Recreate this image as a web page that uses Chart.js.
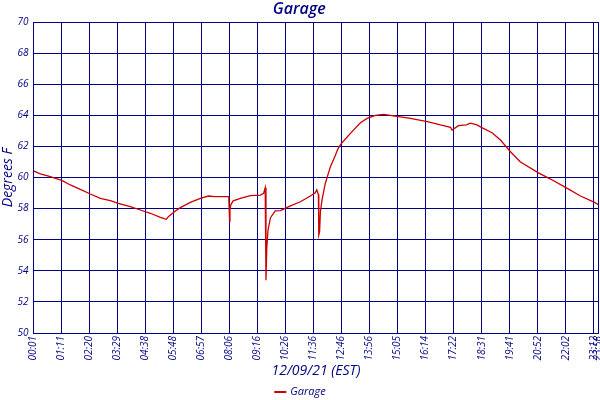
<!DOCTYPE html>
<html>
<head>
<meta charset="utf-8">
<script src="https://cdn.jsdelivr.net/npm/chart.js@4"></script>
<style>
  html, body { margin: 0; padding: 0; background: #ffffff; }
  #wrap { width: 600px; height: 400px; }
</style>
</head>
<body>
<div id="wrap"><canvas id="c" width="600" height="400"></canvas></div>
<script>
// Sample index (readings in order) and temperature (deg F)
const sampleIndex = [0, 17, 42, 72, 92, 117, 142, 167, 192, 212, 242, 267, 292, 317, 332, 337, 352, 367, 392, 417, 437, 454, 488,
  490, 491, 493, 499, 517, 542, 567, 575, 579, 581, 583, 586, 592, 604, 617, 642, 667, 692, 704, 708, 712, 713, 715, 717, 721,
  729, 742, 754, 760, 767, 775, 792, 817, 834, 854, 875, 904, 942, 984, 1017, 1042, 1046, 1062, 1082, 1092, 1108, 1124, 1146, 1167,
  1192, 1217, 1262, 1292, 1334, 1367, 1402, 1412];
const temperatures = [60.42, 60.23, 60.05, 59.8, 59.52, 59.24, 58.94, 58.66, 58.51, 58.34, 58.12, 57.91, 57.7, 57.44, 57.31, 57.48, 57.8, 58.06, 58.4, 58.66, 58.81, 58.77, 58.77,
  57.2, 57.9, 58.23, 58.5, 58.66, 58.83, 58.87, 58.98, 59.34, 53.4, 55.45, 56.6, 57.4, 57.85, 57.87, 58.17, 58.44, 58.81, 59.02, 59.2, 58.9, 56.3, 56.5, 57.8, 58.55,
  59.6, 60.7, 61.4, 61.8, 62.1, 62.35, 62.84, 63.52, 63.8, 64.0, 64.06, 63.95, 63.8, 63.6, 63.38, 63.23, 63.05, 63.33, 63.38, 63.49, 63.38, 63.16, 62.88, 62.41,
  61.66, 61.0, 60.3, 59.9, 59.3, 58.81, 58.4, 58.25];
// Tick positions (sample index) and their time labels
const tickIndex = [0, 70, 140, 210, 280, 350, 420, 490, 560, 630, 700, 770, 840, 910, 980, 1050, 1120, 1190, 1260, 1330, 1400, 1412];
const tickLabels = ["00:01", "01:11", "02:20", "03:29", "04:38", "05:48", "06:57", "08:06", "09:16", "10:26", "11:36",
  "12:46", "13:56", "15:05", "16:14", "17:22", "18:31", "19:41", "20:52", "22:02", "23:12", "23:58"];
const yTicks = [50, 52, 54, 56, 58, 60, 62, 64, 66, 68, 70];

const NAVY = '#000080';
const FONT = 'Open Sans';

const points = sampleIndex.map((x, i) => ({ x: x, y: temperatures[i] }));

// Simple bottom legend drawn from the dataset (line swatch + label)
const lineLegend = {
  id: 'lineLegend',
  afterDraw(chart) {
    const ctx = chart.ctx;
    const ds = chart.data.datasets[0];
    ctx.save();
    ctx.font = 'italic 11px "' + FONT + '"';
    const tw = ctx.measureText(ds.label).width;
    const sw = 12, gap = 4;
    const total = sw + gap + tw;
    const x0 = chart.width / 2 - total / 2;
    const y = 392;
    ctx.fillStyle = ds.borderColor;
    ctx.fillRect(x0, y - 1, sw, 2);
    ctx.fillStyle = NAVY;
    ctx.textBaseline = 'middle';
    ctx.textAlign = 'left';
    ctx.fillText(ds.label, x0 + sw + gap, y);
    ctx.restore();
  }
};

new Chart(document.getElementById('c'), {
  type: 'line',
  data: {
    datasets: [{
      label: 'Garage',
      data: points,
      borderColor: '#cc0000',
      backgroundColor: '#cc0000',
      borderWidth: 1.3,
      pointRadius: 0,
      tension: 0,
      fill: false
    }]
  },
  plugins: [lineLegend],
  options: {
    responsive: false,
    animation: false,
    devicePixelRatio: 1,
    layout: { padding: { left: 0, right: 1.5, top: 0, bottom: 0 } },
    plugins: {
      title: {
        display: true,
        text: 'Garage',
        color: NAVY,
        font: { family: FONT, size: 16, style: 'italic', weight: '600', lineHeight: 1.2 },
        padding: { top: 0, bottom: 2.8 }
      },
      legend: { display: false },
      tooltip: { enabled: false }
    },
    scales: {
      x: {
        type: 'linear',
        min: 0,
        max: 1412,
        afterBuildTicks: (scale) => { scale.ticks = tickIndex.map(v => ({ value: v })); },
        afterFit: (scale) => {
          scale.paddingLeft = 0; scale.paddingRight = 0;
          scale.height = 400 - 333;
        },
        grid: { color: NAVY, lineWidth: 1, drawTicks: false },
        border: { color: NAVY, width: 1 },
        ticks: {
          autoSkip: false,
          minRotation: 90,
          maxRotation: 90,
          padding: 3,
          color: NAVY,
          font: { family: FONT, size: 10, style: 'italic' },
          callback: (value, index) => tickLabels[index]
        },
        title: {
          display: true,
          text: '12/09/21 (EST)',
          color: NAVY,
          font: { family: FONT, size: 14, style: 'italic' },
          padding: { top: 0, bottom: 20.5 }
        }
      },
      y: {
        min: 50,
        max: 70,
        afterBuildTicks: (scale) => { scale.ticks = yTicks.map(v => ({ value: v })); },
        afterFit: (scale) => { scale.width = 33.5; scale.paddingTop = 0; scale.paddingBottom = 0; },
        grid: { color: NAVY, lineWidth: 1, drawTicks: false },
        border: { color: NAVY, width: 1 },
        ticks: {
          padding: 5,
          color: NAVY,
          font: { family: FONT, size: 10, style: 'italic' }
        },
        title: {
          display: true,
          text: 'Degrees F',
          color: NAVY,
          font: { family: FONT, size: 14, style: 'italic' },
          padding: { top: 0, bottom: 0 }
        }
      }
    }
  }
});
</script>
</body>
</html>
